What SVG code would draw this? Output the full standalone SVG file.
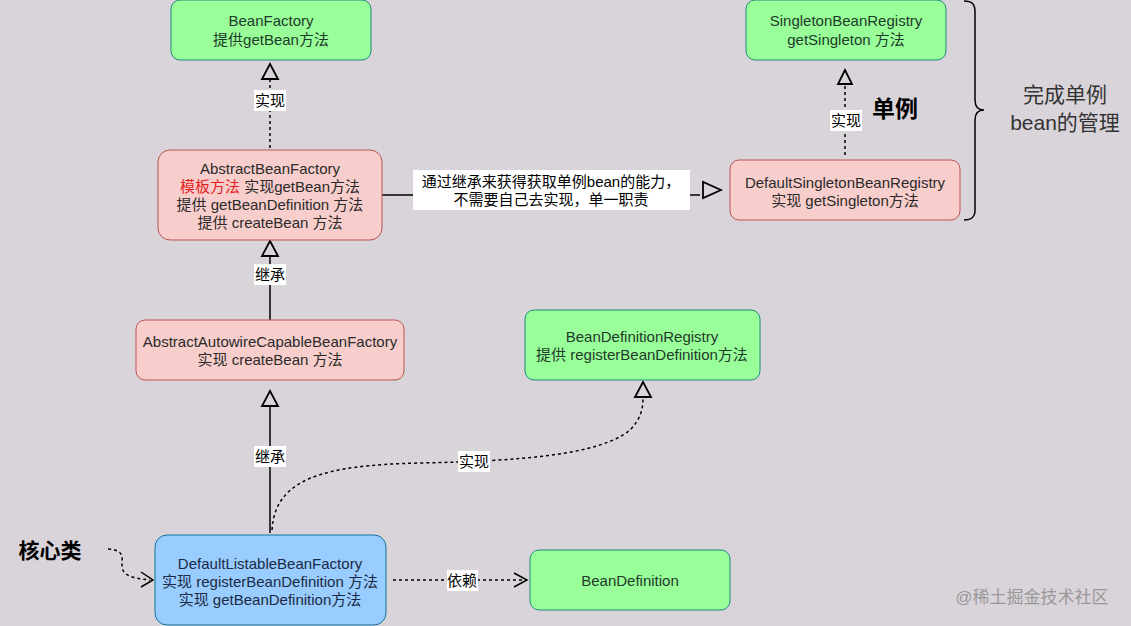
<svg xmlns="http://www.w3.org/2000/svg" width="1131" height="626" viewBox="0 0 1131 626">
<style>
.t{font-family:"Liberation Sans","Noto Sans CJK SC",sans-serif;font-size:15px;text-anchor:middle}
.g rect{fill:#99ff99;stroke:#1f8a7a;stroke-width:1}
.g text{fill:#1f3a2a}
.r rect{fill:#f8cecc;stroke:#b85450;stroke-width:1}
.r text{fill:#2a2a2a}
.b rect{fill:#99ccff;stroke:#10739e;stroke-width:1}
.b text{fill:#1a2a44}
.lbl{font-family:"Liberation Sans","Noto Sans CJK SC",sans-serif;font-size:15px;text-anchor:middle;fill:#000}
.lb{fill:#fff}
.c{fill:none;stroke:#000;stroke-width:1.5}
.d{stroke-dasharray:3 3}
.tri{fill:none;stroke:#000;stroke-width:1.8}
.big{font-family:"Liberation Sans","Noto Sans CJK SC",sans-serif;text-anchor:middle}
</style>
<rect width="1131" height="626" fill="#d9d4d9"/>
<g id="connectors">
  <path class="c d" d="M270,148 V80"/>
  <path class="tri" d="M270,64 L262,79 L278,79 Z"/>
  <rect class="lb" x="254" y="90" width="32" height="21"/>
  <text class="lbl" x="270" y="106">实现</text>
  <path class="c" d="M270,320 V256"/>
  <path class="tri" d="M270,241 L262,256 L278,256 Z"/>
  <rect class="lb" x="254" y="264" width="32" height="21"/>
  <text class="lbl" x="270" y="280">继承</text>
  <path class="c" d="M270,533 V406"/>
  <path class="tri" d="M270,391 L262,406 L278,406 Z"/>
  <rect class="lb" x="254" y="446" width="32" height="21"/>
  <text class="lbl" x="270" y="462">继承</text>
  <path class="c d" d="M272,530 C275,480 320,465 420,463 C520,461 600,455 630,430 C640,420 643,410 643,398"/>
  <path class="tri" d="M643,382 L635,397 L651,397 Z"/>
  <rect class="lb" x="458" y="451" width="32" height="21"/>
  <text class="lbl" x="474" y="467">实现</text>
  <path class="c" d="M382,195 H700"/>
  <path class="tri" d="M721,190 L703,182 L703,198 Z"/>
  <rect class="lb" x="413" y="170" width="277" height="40"/>
  <text class="lbl" x="551" y="187">通过继承来获得获取单例bean的能力，</text>
  <text class="lbl" x="551" y="205">不需要自己去实现，单一职责</text>
  <path class="c d" d="M845,155 V86"/>
  <path class="tri" d="M845,70 L838,84 L852,84 Z"/>
  <rect class="lb" x="830" y="110" width="32" height="21"/>
  <text class="lbl" x="846" y="126">实现</text>
  <path class="c d" d="M108,549 C125,550 122,558 122,565 C122,575 130,578 150,580"/>
  <path class="c" d="M141,572 L153,580 L141,587"/>
  <path class="c d" d="M393,580 H526"/>
  <path class="c" d="M514,573 L527,580 L514,587"/>
  <rect class="lb" x="447" y="570" width="31" height="21"/>
  <text class="lbl" x="462" y="586">依赖</text>
  <path d="M964,1 C972,1 975,4 975,12 V100 C975,106 978,110 984,110 C978,110 975,114 975,120 V210 C975,217 972,220 964,220" fill="none" stroke="#000" stroke-width="1.5"/>
</g>
<g id="BeanFactory" class="g">
  <rect x="171" y="0" width="200" height="60" rx="9"/>
  <text class="t" x="271" y="26">BeanFactory</text>
  <text class="t" x="271" y="45">提供getBean方法</text>
</g>
<g id="AbstractBeanFactory" class="r">
  <rect x="158" y="150" width="224" height="90" rx="12"/>
  <text class="t" x="270" y="174">AbstractBeanFactory</text>
  <text class="t" x="270" y="192"><tspan fill="#e61e1e">模板方法</tspan> 实现getBean方法</text>
  <text class="t" x="270" y="210">提供 getBeanDefinition 方法</text>
  <text class="t" x="270" y="228">提供 createBean 方法</text>
</g>
<g id="SingletonBeanRegistry" class="g">
  <rect x="746" y="0" width="200" height="60" rx="9"/>
  <text class="t" x="846" y="26">SingletonBeanRegistry</text>
  <text class="t" x="846" y="45">getSingleton 方法</text>
</g>
<g id="DefaultSingletonBeanRegistry" class="r">
  <rect x="730" y="160" width="230" height="60" rx="9"/>
  <text class="t" x="845" y="188">DefaultSingletonBeanRegistry</text>
  <text class="t" x="845" y="206">实现 getSingleton方法</text>
</g>
<g id="singletonLabel">
  <text class="big" x="895" y="117" font-size="23" font-weight="bold" fill="#000">单例</text>
</g>
<g id="braceLabel">
  <text class="big" x="1065" y="102" font-size="21" fill="#333">完成单例</text>
  <text class="big" x="1065" y="130" font-size="21" fill="#333">bean的管理</text>
</g>
<g id="AbstractAutowireCapableBeanFactory" class="r">
  <rect x="136" y="320" width="268" height="60" rx="9"/>
  <text class="t" x="270" y="347">AbstractAutowireCapableBeanFactory</text>
  <text class="t" x="270" y="365">实现 createBean 方法</text>
</g>
<g id="BeanDefinitionRegistry" class="g">
  <rect x="525" y="310" width="235" height="70" rx="9"/>
  <text class="t" x="642" y="342">BeanDefinitionRegistry</text>
  <text class="t" x="642" y="360">提供 registerBeanDefinition方法</text>
</g>
<g id="coreLabel">
  <text class="big" x="50" y="558" font-size="21" font-weight="bold" fill="#000">核心类</text>
</g>
<g id="DefaultListableBeanFactory" class="b">
  <rect x="155" y="535" width="231" height="90" rx="12"/>
  <text class="t" x="270" y="569">DefaultListableBeanFactory</text>
  <text class="t" x="270" y="587">实现 registerBeanDefinition 方法</text>
  <text class="t" x="270" y="605">实现 getBeanDefinition方法</text>
</g>
<g id="BeanDefinition" class="g">
  <rect x="530" y="550" width="200" height="60" rx="9"/>
  <text class="t" x="630" y="586">BeanDefinition</text>
</g>
<g id="watermark">
  <text class="big" x="1032" y="603" font-size="17" fill="#9a979a">@稀土掘金技术社区</text>
</g>
</svg>
